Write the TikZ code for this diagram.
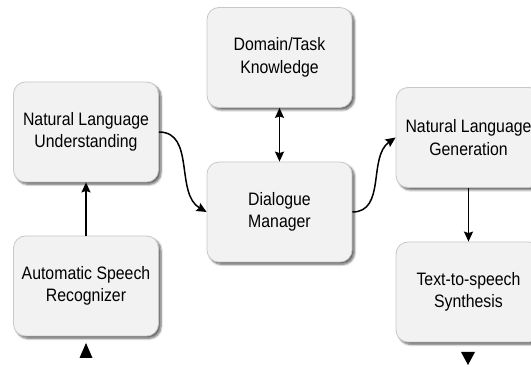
\documentclass[tikz,border=0pt]{standalone}
\usepackage{fontspec}
\setmainfont{Liberation Sans}[FakeStretch=0.88]
\usetikzlibrary{arrows.meta,shadows.blur}
\definecolor{boxfill}{HTML}{F2F2F2}
\definecolor{boxline}{HTML}{C8C8C8}
\tikzset{
  modbox/.style={draw=boxline, line width=0.8pt, fill=boxfill, rounded corners=12pt,
    minimum width=145pt, minimum height=100pt, inner sep=0pt, align=center,
    font=\fontsize{18pt}{22.5pt}\selectfont,
    blur shadow={shadow xshift=2.5pt, shadow yshift=-2.5pt, shadow blur steps=6, shadow opacity=60}},
  conn/.style={line width=1.5pt, -{Stealth[length=10pt,width=9pt,inset=1.5pt]}},
  dconn/.style={line width=1.5pt, {Stealth[length=10pt,width=9pt,inset=1.5pt]}-{Stealth[length=10pt,width=9pt,inset=1.5pt]}},
}
\begin{document}
\begin{tikzpicture}[x=1pt,y=1pt]
\useasboundingbox (0,0) rectangle (531,367);
\node[modbox] (nlu) at (86,235) {Natural Language\\Understanding};
\node[modbox] (asr) at (86,81) {Automatic Speech\\Recognizer};
\node[modbox] (dom) at (279.5,309.5) {Domain/Task\\Knowledge};
\node[modbox] (dm) at (279.5,155) {Dialogue\\Manager};
\node[modbox] (nlg) at (468.5,229.5) {Natural Language\\Generation};
\node[modbox] (tts) at (468.5,75) {Text-to-speech\\Synthesis};
\draw[conn] (asr.north) -- (nlu.south);
\draw[dconn] (dom.south) -- (dm.north);
\draw[conn] (nlg.south) -- (tts.north);
\draw[conn] (nlu.east) to[out=0,in=150] (dm.west);
\draw[conn] (dm.east) to[out=0,in=215] (nlg.west);
\coordinate (inTip) at (86,24);
\coordinate (outTip) at (468,2);
\fill (inTip) -- ++(-6.5,-15) -- ++(13,0) -- cycle;
\fill (outTip) -- ++(-7,13) -- ++(14,0) -- cycle;
\end{tikzpicture}
\end{document}
